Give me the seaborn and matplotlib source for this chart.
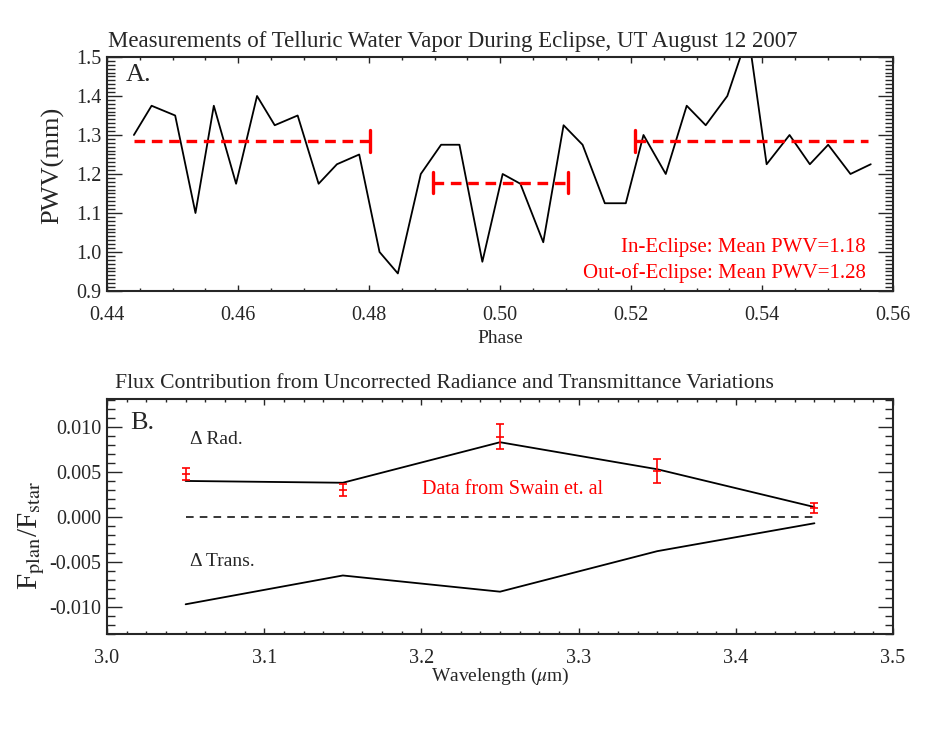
import matplotlib
matplotlib.use("Agg")
import matplotlib.pyplot as plt
from matplotlib.ticker import MultipleLocator
import seaborn as sns

# --- panel A data: precipitable water vapour vs orbital phase
phase = [0.4441, 0.4468, 0.4504, 0.4535, 0.4563, 0.4597, 0.4629, 0.4656,
         0.4691, 0.4723, 0.4751, 0.4785, 0.4816, 0.4844, 0.4879, 0.4910,
         0.4938, 0.4973, 0.5004, 0.5031, 0.5066, 0.5097, 0.5126, 0.5160,
         0.5192, 0.5219, 0.5253, 0.5285, 0.5314, 0.5347, 0.5379, 0.5407,
         0.5442, 0.5473, 0.5501, 0.5535, 0.5566]
pwv = [1.30, 1.375, 1.35, 1.10, 1.375, 1.175, 1.40, 1.325,
       1.35, 1.175, 1.225, 1.25, 1.00, 0.945, 1.20, 1.275,
       1.275, 0.975, 1.20, 1.175, 1.025, 1.325, 1.275, 1.125,
       1.125, 1.30, 1.20, 1.375, 1.325, 1.40, 1.56, 1.225,
       1.30, 1.225, 1.275, 1.20, 1.225]

# mean PWV segments (out / in / out of eclipse)
seg_start = [0.4441, 0.4898, 0.5206]
seg_end = [0.4802, 0.5103, 0.5562]
seg_mean = [1.284, 1.178, 1.284]
cap_left = [False, True, True]
cap_right = [True, True, False]

# --- panel B data
wave = [3.05, 3.15, 3.25, 3.35, 3.45]
d_rad = [0.0040, 0.0038, 0.0083, 0.0053, 0.0011]
d_trans = [-0.0097, -0.0065, -0.0083, -0.0038, -0.0007]
swain = [0.0048, 0.0030, 0.0089, 0.0051, 0.0010]
swain_err = [0.00065, 0.0007, 0.0014, 0.0013, 0.0006]

sns.set_style('ticks')
plt.rcParams['font.family'] = ['Liberation Serif', 'DejaVu Serif']
plt.rcParams['mathtext.fontset'] = 'stix'

fig = plt.figure(figsize=(9.26, 7.45), dpi=100)
axA = fig.add_axes([0.1156, 0.6094, 0.8488, 0.3141])
axB = fig.add_axes([0.1156, 0.1490, 0.8488, 0.3154])

# ---------------- panel A
sns.lineplot(x=phase, y=pwv, ax=axA, color='black', lw=1.3,
             sort=False, estimator=None)
cap = 0.028
for s, e, m, cl, cr in zip(seg_start, seg_end, seg_mean, cap_left, cap_right):
    axA.plot([s, e], [m, m], color='red', lw=2.4, ls=(0, (3.2, 2.0)))
    if cl:
        axA.plot([s, s], [m - cap, m + cap], color='red', lw=2.4)
    if cr:
        axA.plot([e, e], [m - cap, m + cap], color='red', lw=2.4)

axA.set_xlim(0.44, 0.56)
axA.set_ylim(0.9, 1.5)
axA.xaxis.set_major_locator(MultipleLocator(0.02))
axA.xaxis.set_minor_locator(MultipleLocator(0.005))
axA.yaxis.set_major_locator(MultipleLocator(0.1))
axA.yaxis.set_minor_locator(MultipleLocator(0.01))
axA.xaxis.set_major_formatter(plt.FormatStrFormatter('%.2f'))
axA.yaxis.set_major_formatter(plt.FormatStrFormatter('%.1f'))
fig.text(453 / 926, 1 - 42 / 745,
         'Measurements of Telluric Water Vapor During Eclipse, UT August 12 2007',
         fontsize=16.5, ha='center', va='center')
axA.set_xlabel('Phase', fontsize=14, labelpad=4)
axA.set_ylabel('PWV(mm)', fontsize=19)
axA.yaxis.set_label_coords(-0.054, 0.535)
axA.text(0.024, 0.925, 'A.', transform=axA.transAxes, fontsize=19,
         ha='left', va='center')
axA.text(0.9657, 0.188, 'In-Eclipse: Mean PWV=1.18', transform=axA.transAxes,
         fontsize=15, color='red', ha='right', va='center')
axA.text(0.9657, 0.077, 'Out-of-Eclipse: Mean PWV=1.28', transform=axA.transAxes,
         fontsize=15, color='red', ha='right', va='center')

# ---------------- panel B
sns.lineplot(x=wave, y=d_rad, ax=axB, color='black', lw=1.3, estimator=None)
sns.lineplot(x=wave, y=d_trans, ax=axB, color='black', lw=1.3, estimator=None)
axB.plot([wave[0], wave[-1]], [0, 0], color='black', lw=1.1, ls=(0, (5, 4)))
axB.errorbar(wave, swain, yerr=swain_err, fmt='_', color='red', ms=6,
             mew=1.2, elinewidth=1.2, capsize=3, capthick=1.2)

axB.set_xlim(3.0, 3.5)
axB.set_ylim(-0.013, 0.0131)
axB.xaxis.set_major_locator(MultipleLocator(0.1))
axB.xaxis.set_minor_locator(MultipleLocator(0.0125))
axB.yaxis.set_major_locator(MultipleLocator(0.005))
axB.yaxis.set_minor_locator(MultipleLocator(0.001))
axB.xaxis.set_major_formatter(plt.FormatStrFormatter('%.1f'))
axB.yaxis.set_major_formatter(plt.FormatStrFormatter('%.3f'))
fig.text(444 / 926, 1 - 383 / 745,
         'Flux Contribution from Uncorrected Radiance and Transmittance Variations',
         fontsize=15.6, ha='center', va='center')
axB.set_xlabel(r'Wavelength ($\mu$m)', fontsize=14, labelpad=-1)
axB.set_ylabel(r'F$_{\rm plan}$/F$_{\rm star}$', fontsize=21)
axB.yaxis.set_label_coords(-0.076, 0.42)
axB.text(0.029, 0.90, 'B.', transform=axB.transAxes, fontsize=19,
         ha='left', va='center')
axB.text(0.1056, 0.826, '\u0394 Rad.', transform=axB.transAxes, fontsize=14,
         ha='left', va='center')
axB.text(0.1056, 0.308, '\u0394 Trans.', transform=axB.transAxes, fontsize=14,
         ha='left', va='center')
axB.text(0.5165, 0.617, 'Data from Swain et. al', transform=axB.transAxes,
         fontsize=14.5, color='red', ha='center', va='center')

for ax in (axA, axB):
    for sp in ax.spines.values():
        sp.set_visible(True)
        sp.set_linewidth(1.5)
    ax.tick_params(which='both', direction='in', top=True, right=True,
                   labelsize=14.5, width=1.0)
    ax.tick_params(axis='x', which='major', length=4.5, pad=10.5)
    ax.tick_params(axis='x', which='minor', length=2.5)
    ax.tick_params(axis='y', which='major', length=11, pad=4)
    ax.tick_params(axis='y', which='minor', length=5.5)

fig.savefig('out.png', dpi=100)
